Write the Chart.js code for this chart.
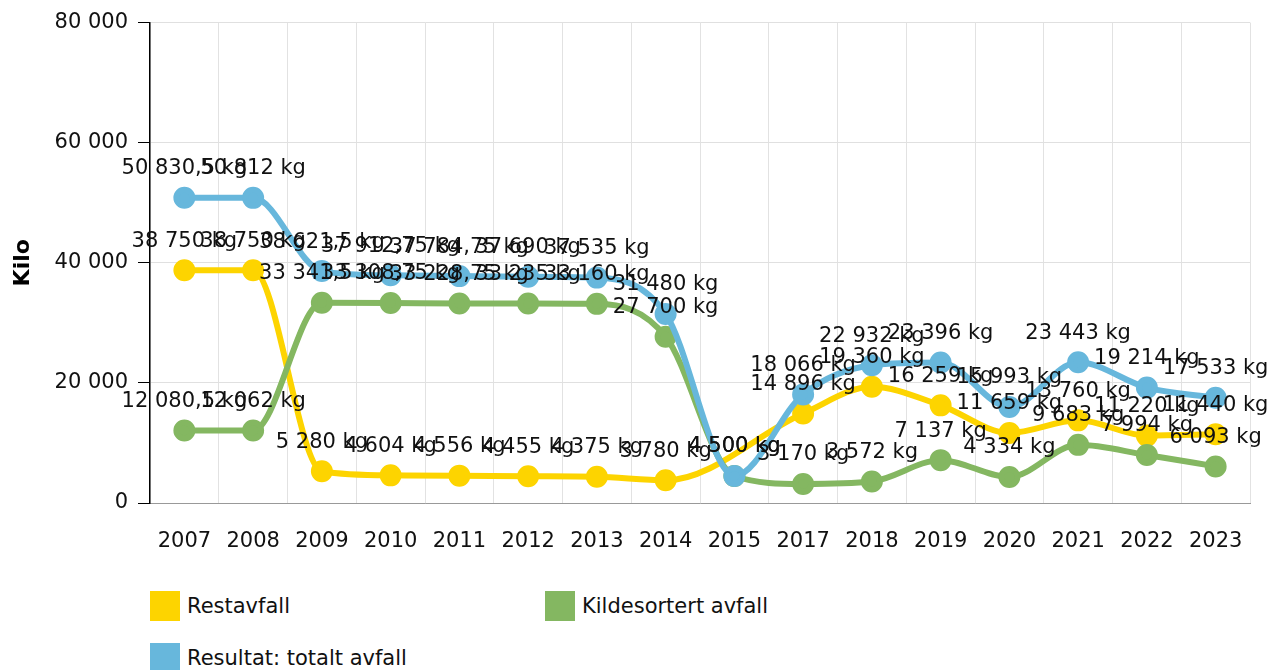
<!DOCTYPE html>
<html>
<head>
<meta charset="utf-8">
<script src="https://cdn.jsdelivr.net/npm/chart.js@4"></script>
<style>
    body { margin: 0; background: #fff; font-family: "DejaVu Sans", sans-serif; }
    #wrap { position: relative; width: 1272px; height: 670px; overflow: hidden; }
    #box { position: absolute; left: 0; top: 0; width: 1272px; height: 570px; }
    .legend-item { position: absolute; height: 30px; display: flex; align-items: center; font-size: 21px; color: #111; }
    .legend-item span.sw { width: 30px; height: 30px; margin-right: 7px; display: inline-block; }
</style>
</head>
<body>
<div id="wrap">
    <div id="box"><canvas id="wasteChart"></canvas></div>
    <div id="legend"></div>
</div>
<script>
const years = ["2007", "2008", "2009", "2010", "2011", "2012", "2013", "2014", "2015", "2017", "2018", "2019", "2020", "2021", "2022", "2023"];
const restavfall = [38750, 38750, 5280, 4604, 4556, 4455, 4375, 3780, null, 14896, 19360, 16259, 11659, 13760, 11220, 11440];
const kildesortert = [12080.5, 12062, 33341.5, 33308.75, 33228.75, 33235, 33160, 27700, 4500, 3170, 3572, 7137, 4334, 9683, 7994, 6093];
const totalt = [50830.5, 50812, 38621.5, 37912.75, 37784.75, 37690, 37535, 31480, 4500, 18066, 22932, 23396, 15993, 23443, 19214, 17533];
const yTicks = [0, 20000, 40000, 60000, 80000];

const YELLOW = "#fdd400";
const GREEN = "#84b761";
const BLUE = "#67b7dc";

function fmtNum(v) {
    const parts = String(v).split(".");
    const whole = parts[0].replace(/\B(?=(\d{3})+(?!\d))/g, " ");
    return parts[1] ? whole + "," + parts[1] : whole;
}

// draws "xx xxx kg" above every point
const valueLabels = {
    id: "valueLabels",
    afterDatasetsDraw(chart) {
        const ctx = chart.ctx;
        ctx.save();
        ctx.font = '21px "DejaVu Sans"';
        ctx.fillStyle = "#111";
        ctx.textAlign = "center";
        ctx.textBaseline = "middle";
        chart.data.datasets.forEach((ds, i) => {
            chart.getDatasetMeta(i).data.forEach((pt, j) => {
                const v = ds.data[j];
                if (v === null || v === undefined) return;
                ctx.fillText(fmtNum(v) + " kg", pt.x, pt.y - 29);
            });
        });
        ctx.restore();
    }
};

function series(label, data, color, order) {
    return {
        label,
        data,
        order,
        borderColor: color,
        backgroundColor: color,
        pointBackgroundColor: color,
        pointBorderColor: color,
        borderWidth: 6,
        pointRadius: 8,
        pointHoverRadius: 8,
        cubicInterpolationMode: "monotone",
        spanGaps: true,
        fill: false
    };
}

const chart = new Chart(document.getElementById("wasteChart"), {
    type: "line",
    data: {
        labels: years,
        datasets: [
            series("Restavfall", restavfall, YELLOW, 3),
            series("Kildesortert avfall", kildesortert, GREEN, 2),
            series("Resultat: totalt avfall", totalt, BLUE, 1)
        ]
    },
    options: {
        responsive: true,
        maintainAspectRatio: false,
        animation: false,
        layout: { padding: { top: 22, right: 22, left: 0, bottom: 0 } },
        plugins: {
            legend: { display: false },
            tooltip: { enabled: false }
        },
        scales: {
            x: {
                offset: true,
                grid: { offset: true, color: "#e2e2e2", drawTicks: false },
                border: { color: "#999" },
                ticks: { color: "#111", padding: 26, font: { family: "DejaVu Sans", size: 21 } },
                afterFit: s => { s.height = 67; }
            },
            y: {
                min: 0,
                max: 80000,
                afterBuildTicks: s => { s.ticks = yTicks.map(v => ({ value: v })); },
                grid: { color: "#e0e0e0", tickColor: "#000", tickLength: 12 },
                border: { color: "#000", width: 1.5 },
                ticks: {
                    color: "#111",
                    padding: 10,
                    font: { family: "DejaVu Sans", size: 21 },
                    callback: v => fmtNum(v)
                },
                title: {
                    display: true,
                    text: "Kilo",
                    color: "#000",
                    padding: { top: 10, bottom: 0 },
                    font: { family: "DejaVu Sans", size: 22, weight: "bold" }
                },
                afterFit: s => { s.width = 150; }
            }
        }
    },
    plugins: [valueLabels]
});

// legend laid out in two columns like the original
const legendPos = [[150, 591], [545, 591], [150, 643]];
const legend = document.getElementById("legend");
chart.data.datasets.forEach((ds, i) => {
    const item = document.createElement("div");
    item.className = "legend-item";
    item.style.left = legendPos[i][0] + "px";
    item.style.top = legendPos[i][1] + "px";
    item.innerHTML = `<span class="sw" style="background:${ds.borderColor}"></span>${ds.label}`;
    legend.appendChild(item);
});
</script>
</body>
</html>
